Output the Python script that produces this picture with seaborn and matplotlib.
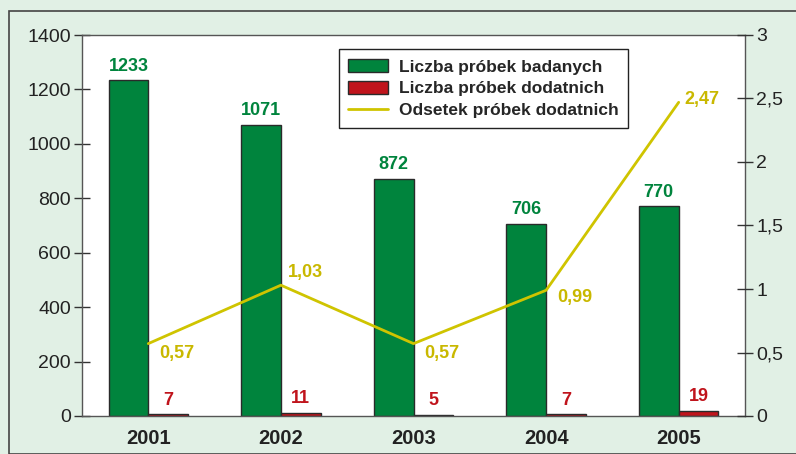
import matplotlib
matplotlib.use("Agg")
import matplotlib.pyplot as plt
from matplotlib.ticker import FixedLocator, FuncFormatter
from matplotlib.patches import Patch
from matplotlib.lines import Line2D
import seaborn as sns
import numpy as np
import pandas as pd

years = ["2001", "2002", "2003", "2004", "2005"]
tested = [1233, 1071, 872, 706, 770]
positive = [7, 11, 5, 7, 19]
pct = [0.57, 1.03, 0.57, 0.99, 2.47]
series_names = ["Liczba próbek badanych", "Liczba próbek dodatnich", "Odsetek próbek dodatnich"]

GREEN = "#00843d"
RED = "#c0141c"
YELLOW = "#cfc400"
YTEXT = "#c9b800"
BG = "#e1f0e5"

sns.set_theme(style="white")
plt.rcParams["font.family"] = ["Liberation Sans", "DejaVu Sans"]

df = pd.DataFrame({
    "year": years * 2,
    "value": tested + positive,
    "series": [series_names[0]] * 5 + [series_names[1]] * 5,
})

fig = plt.figure(figsize=(7.96, 4.54), dpi=100, facecolor=BG)
ax = fig.add_axes([82 / 796, 1 - 416 / 454, (745 - 82) / 796, (416 - 35) / 454])
ax.set_facecolor("white")

sns.barplot(data=df, x="year", y="value", hue="series", order=years,
            hue_order=series_names[:2], palette=[GREEN, RED], width=0.6,
            edgecolor="#2a2a2a", linewidth=1.0, ax=ax, legend=False, saturation=1)

ax.set_ylim(0, 1400)
ax.set_xlim(-0.5, 4.5)
ax.set_yticks(np.arange(0, 1401, 200))
ax.set_xlabel("")
ax.set_ylabel("")
ax.tick_params(axis="y", direction="inout", length=12, width=1, color="#333333",
               labelsize=14, labelcolor="#222222", pad=2)
ax.xaxis.set_major_locator(FixedLocator(range(5)))
ax.set_xticklabels(years, fontweight="bold", fontsize=14.5, color="#222222")
ax.xaxis.set_minor_locator(FixedLocator([-0.5, 0.5, 1.5, 2.5, 3.5, 4.5]))
ax.tick_params(axis="x", which="major", length=0, pad=9)
ax.tick_params(axis="x", which="minor", direction="inout", length=12, width=1, color="#333333")
for s in ax.spines.values():
    s.set_color("#555555")
    s.set_linewidth(1)

cont = ax.containers
ax.bar_label(cont[0], labels=[str(v) for v in tested], padding=4, color=GREEN,
             fontsize=13, fontweight="bold")
ax.bar_label(cont[1], labels=[str(v) for v in positive], padding=4, color=RED,
             fontsize=13, fontweight="bold")

ax2 = ax.twinx()
sns.lineplot(x=np.arange(5), y=pct, ax=ax2, color=YELLOW, linewidth=2)
ax2.set_ylim(0, 3)
ax2.set_xlim(-0.5, 4.5)
ax2.set_yticks([0, 0.5, 1, 1.5, 2, 2.5, 3])
ax2.yaxis.set_major_formatter(FuncFormatter(lambda v, _: f"{v:g}".replace(".", ",")))
ax2.tick_params(axis="y", direction="inout", length=12, width=1, color="#333333",
                labelsize=14, labelcolor="#222222", pad=2)
for s in ax2.spines.values():
    s.set_visible(False)

offsets = [(8, -7), (5, 9), (8, -7), (8, -5), (4, 2)]
for i, (v, off) in enumerate(zip(pct, offsets)):
    ax2.annotate(f"{v:.2f}".replace(".", ","), (i, v), xytext=off, textcoords="offset points",
                 color=YTEXT, fontsize=13, fontweight="bold", ha="left", va="center")

handles = [Patch(facecolor=GREEN, edgecolor="#2a2a2a"),
           Patch(facecolor=RED, edgecolor="#2a2a2a"),
           Line2D([0], [0], color=YELLOW, lw=2)]
leg = ax2.legend(handles, series_names, loc="upper left", bbox_to_anchor=(0.374, 0.985),
                 frameon=True, fancybox=False, edgecolor="#222222", framealpha=1,
                 prop={"weight": "bold", "size": 12.5}, handlelength=2.3, handleheight=0.8,
                 labelspacing=0.35, borderpad=0.55, handletextpad=0.6)
leg.get_frame().set_linewidth(1)

fig.patches.append(plt.Rectangle((9 / 796, 0), 1, 1 - 11 / 454, transform=fig.transFigure,
                                 fill=False, edgecolor="#444444", linewidth=1.2))

fig.savefig("out.png", dpi=100, facecolor=BG)
